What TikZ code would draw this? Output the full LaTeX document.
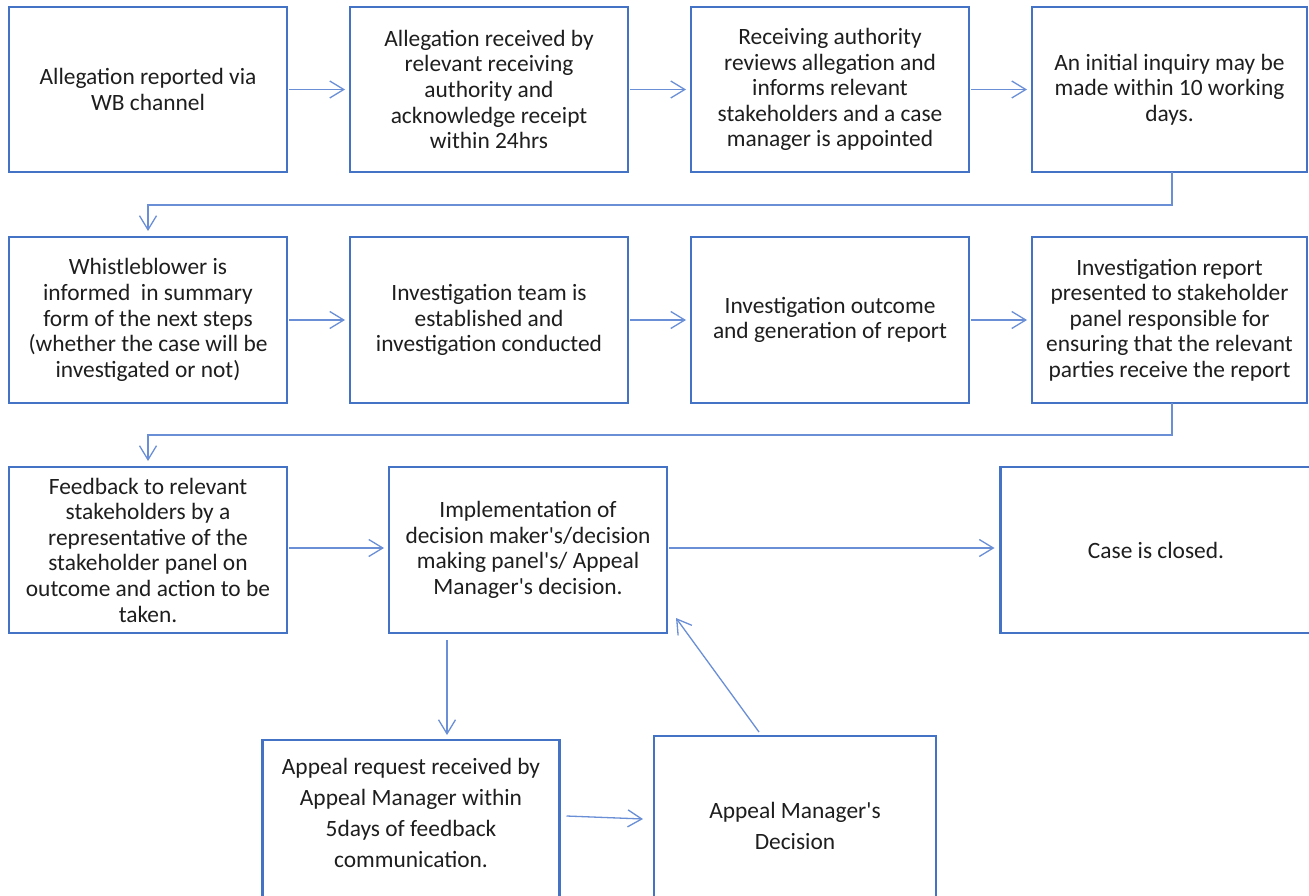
\documentclass[tikz,border=0pt]{standalone}
\usepackage{fontspec}
\setmainfont{Carlito}[Ligatures=TeXOff]
\usetikzlibrary{arrows.meta,calc}
\definecolor{boxblue}{HTML}{4472C4}
\definecolor{arrblue}{HTML}{6A8FD6}
\definecolor{txtc}{HTML}{1E1E1E}
\begin{document}
\begin{tikzpicture}[x=1pt,y=-1pt,
  box/.style={draw=boxblue,line width=2.2pt,inner sep=0pt,outer sep=0pt,align=center,
    text=txtc,font=\fontsize{23.4}{25.6}\selectfont},
  txt/.style={inner sep=0pt,outer sep=0pt,align=center,text=txtc,font=\fontsize{23.4}{30.8}\selectfont},
  arr/.style={draw=arrblue,line width=1.3pt,-{Straight Barb[length=14pt,width=17pt,line width=1.3pt]}}]
\fill[white] (0,0) rectangle (1309,896);
\useasboundingbox (0,0) rectangle (1309,896);
% row 1
\node[box,minimum width=278,minimum height=165] (b1) at (148,89.5) {Allegation reported via\\WB channel};
\node[box,minimum width=278,minimum height=165] (b2) at (489,89.5) {Allegation received by\\relevant receiving\\authority and\\acknowledge receipt\\within 24hrs};
\node[box,minimum width=278,minimum height=165] (b3) at (830,89.5) {Receiving authority\\reviews allegation and\\informs relevant\\stakeholders and a case\\manager is appointed};
\node[box,minimum width=275,minimum height=165] (b4) at (1169.5,89.5) {An initial inquiry may be\\made within 10 working\\days.};
% row 2
\node[box,minimum width=278,minimum height=166] (b5) at (148,320) {Whistleblower is\\informed\ \ in summary\\form of the next steps\\(whether the case will be\\investigated or not)};
\node[box,minimum width=278,minimum height=166] (b6) at (489,320) {Investigation team is\\established and\\investigation conducted};
\node[box,minimum width=278,minimum height=166] (b7) at (830,320) {Investigation outcome\\and generation of report};
\node[box,minimum width=275,minimum height=166] (b8) at (1169.5,320) {Investigation report\\presented to stakeholder\\panel responsible for\\ensuring that the relevant\\parties receive the report};
% row 3
\node[box,minimum width=278,minimum height=166] (b9) at (148,550) {Feedback to relevant\\stakeholders by a\\representative of the\\stakeholder panel on\\outcome and action to be\\taken.};
\node[box,minimum width=278,minimum height=166] (b10) at (528,550) {Implementation of\\decision maker's/decision\\making panel's/ Appeal\\Manager's decision.};
\node[box,minimum width=311,minimum height=166] (b11) at (1156,550) {Case is closed.};
% row 4
\node[box,minimum width=297,minimum height=170] (b12) at (411,825) {};
\node[txt] (t12) at (411,813) {Appeal request received by\\Appeal Manager within\\5days of feedback\\communication.};
\node[box,minimum width=282,minimum height=180,font=\fontsize{23.4}{30.8}\selectfont] (b13) at (795,826) {Appeal Manager's\\Decision};
% connectors
\draw[arr,shorten <=2pt,shorten >=5pt] (b1) -- (b2);
\draw[arr,shorten <=2pt,shorten >=5pt] (b2) -- (b3);
\draw[arr,shorten <=2pt,shorten >=5pt] (b3) -- (b4);
\draw[arr,shorten >=6pt] ($(b4.south)+(2.5,0)$) -- ++(0,33) -| (b5.north);
\draw[arr,shorten <=2pt,shorten >=5pt] (b5) -- (b6);
\draw[arr,shorten <=2pt,shorten >=5pt] (b6) -- (b7);
\draw[arr,shorten <=2pt,shorten >=5pt] (b7) -- (b8);
\draw[arr,shorten >=6pt] ($(b8.south)+(2.5,0)$) -- ++(0,32) -| (b9.north);
\draw[arr,shorten <=2pt,shorten >=5pt] ($(b9.east)+(0,-2)$) -- ($(b10.west)+(0,-2)$);
\draw[arr,shorten <=2pt,shorten >=6pt] ($(b10.east)+(0,-2)$) -- ($(b11.west)+(0,-2)$);
\coordinate (vx) at (447,0);
\draw[arr,shorten <=7pt,shorten >=5pt] (b10.south -| vx) -- (b12.north -| vx);
\draw[arr] ($(b12.east)+(7,-9)$) -- ($(b13.west)+(-11,-7)$);
\draw[arr] ($(b13.north)+(-36,-4)$) -- ($(b10.south east)+(9,-15)$);
\end{tikzpicture}
\end{document}
